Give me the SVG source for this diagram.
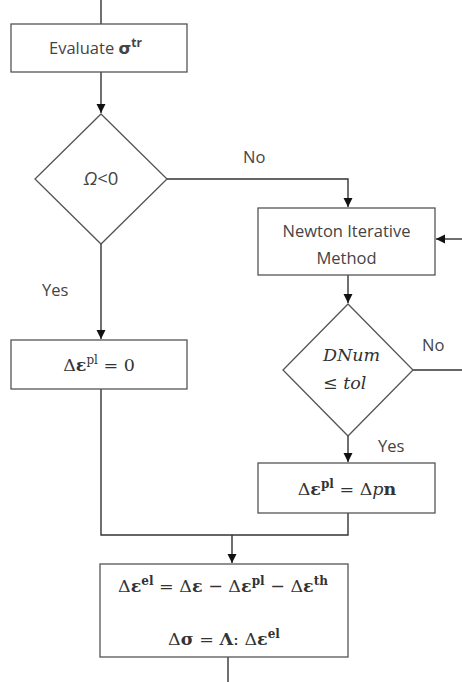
<svg xmlns="http://www.w3.org/2000/svg" width="462" height="682" viewBox="0 0 462 682">
<style>
.box{fill:#fff;stroke:#555;stroke-width:1.3}
.ln{fill:none;stroke:#333;stroke-width:1.4}
.lbl{font-family:"Open Sans","Liberation Sans",sans-serif;font-size:16.5px;fill:#444}
.m{font-family:"DejaVu Serif","Liberation Serif",serif;font-size:17.5px;fill:#333}
.b{font-weight:bold}
.i{font-style:italic}
.sup{font-size:12px}
</style>
<defs>
<marker id="ah" markerWidth="10" markerHeight="10" refX="9" refY="5" orient="auto" markerUnits="userSpaceOnUse">
<path d="M0,0.5 L9,5 L0,9.5 Z" fill="#111"/>
</marker>
</defs>
<rect width="462" height="682" fill="#fff"/>
<g id="connectors">
<path class="ln" d="M101,0 V24"/>
<path class="ln" d="M101,72 V113" marker-end="url(#ah)"/>
<path class="ln" d="M167,179 H348 V207" marker-end="url(#ah)"/>
<path class="ln" d="M101,244 V339" marker-end="url(#ah)"/>
<path class="ln" d="M462,239 H436" marker-end="url(#ah)"/>
<path class="ln" d="M348,275 V303" marker-end="url(#ah)"/>
<path class="ln" d="M413,370 H462"/>
<path class="ln" d="M348,436 V462" marker-end="url(#ah)"/>
<path class="ln" d="M101,389 V535 H348 V513"/>
<path class="ln" d="M232,535 V563" marker-end="url(#ah)"/>
<path class="ln" d="M228,657 V682"/>
<text class="lbl" x="243" y="163">No</text>
<text class="lbl" x="42" y="296">Yes</text>
<text class="lbl" x="422" y="351">No</text>
<text class="lbl" x="378" y="452">Yes</text>
</g>
<g id="evaluate">
<rect class="box" x="11" y="24" width="176" height="48"/>
<text class="lbl" x="49" y="54">Evaluate <tspan class="b" font-family="DejaVu Sans,sans-serif">σ</tspan><tspan class="b" font-size="12" dy="-7">tr</tspan></text>
</g>
<g id="omega">
<polygon class="box" points="101,114 167,179 101,244 35,179"/>
<text class="lbl" x="101" y="185" text-anchor="middle" style="font-size:18.5px"><tspan class="i">Ω</tspan>&lt;0</text>
</g>
<g id="newton">
<rect class="box" x="258" y="208" width="177" height="67"/>
<text class="lbl" x="346.500" y="237" text-anchor="middle">Newton Iterative</text>
<text class="lbl" x="346.500" y="264" text-anchor="middle">Method</text>
</g>
<g id="dnum">
<polygon class="box" points="348,304 413,370 348,436 283,370"/>
<text class="m i" x="323" y="361">DNum</text>
<text class="m" x="323" y="389">≤ <tspan class="i">tol</tspan></text>
</g>
<g id="zero">
<rect class="box" x="11" y="340" width="176" height="49"/>
<text class="m" x="99" y="371" text-anchor="middle">Δ<tspan class="b">ε</tspan><tspan class="sup" dy="-7">pl</tspan><tspan dy="7"> = 0</tspan></text>
</g>
<g id="dpn">
<rect class="box" x="258" y="463" width="177" height="50"/>
<text class="m" x="347" y="495" text-anchor="middle">Δ<tspan class="b">ε</tspan><tspan class="sup b" dy="-7">pl</tspan><tspan dy="7"> = Δ</tspan><tspan class="i">p</tspan><tspan class="b">n</tspan></text>
</g>
<g id="update">
<rect class="box" x="100" y="564" width="248" height="93"/>
<text class="m" x="223" y="592" text-anchor="middle">Δ<tspan class="b">ε</tspan><tspan class="sup b" dy="-7">el</tspan><tspan dy="7"> = Δ</tspan><tspan class="b">ε</tspan><tspan> −  Δ</tspan><tspan class="b">ε</tspan><tspan class="sup b" dy="-7">pl</tspan><tspan dy="7"> − Δ</tspan><tspan class="b">ε</tspan><tspan class="sup b" dy="-7">th</tspan></text>
<text class="m" x="224" y="645" text-anchor="middle">Δ<tspan class="b">σ</tspan><tspan> = </tspan><tspan class="b">Λ</tspan><tspan>: Δ</tspan><tspan class="b">ε</tspan><tspan class="sup b" dy="-7">el</tspan></text>
</g>
</svg>
